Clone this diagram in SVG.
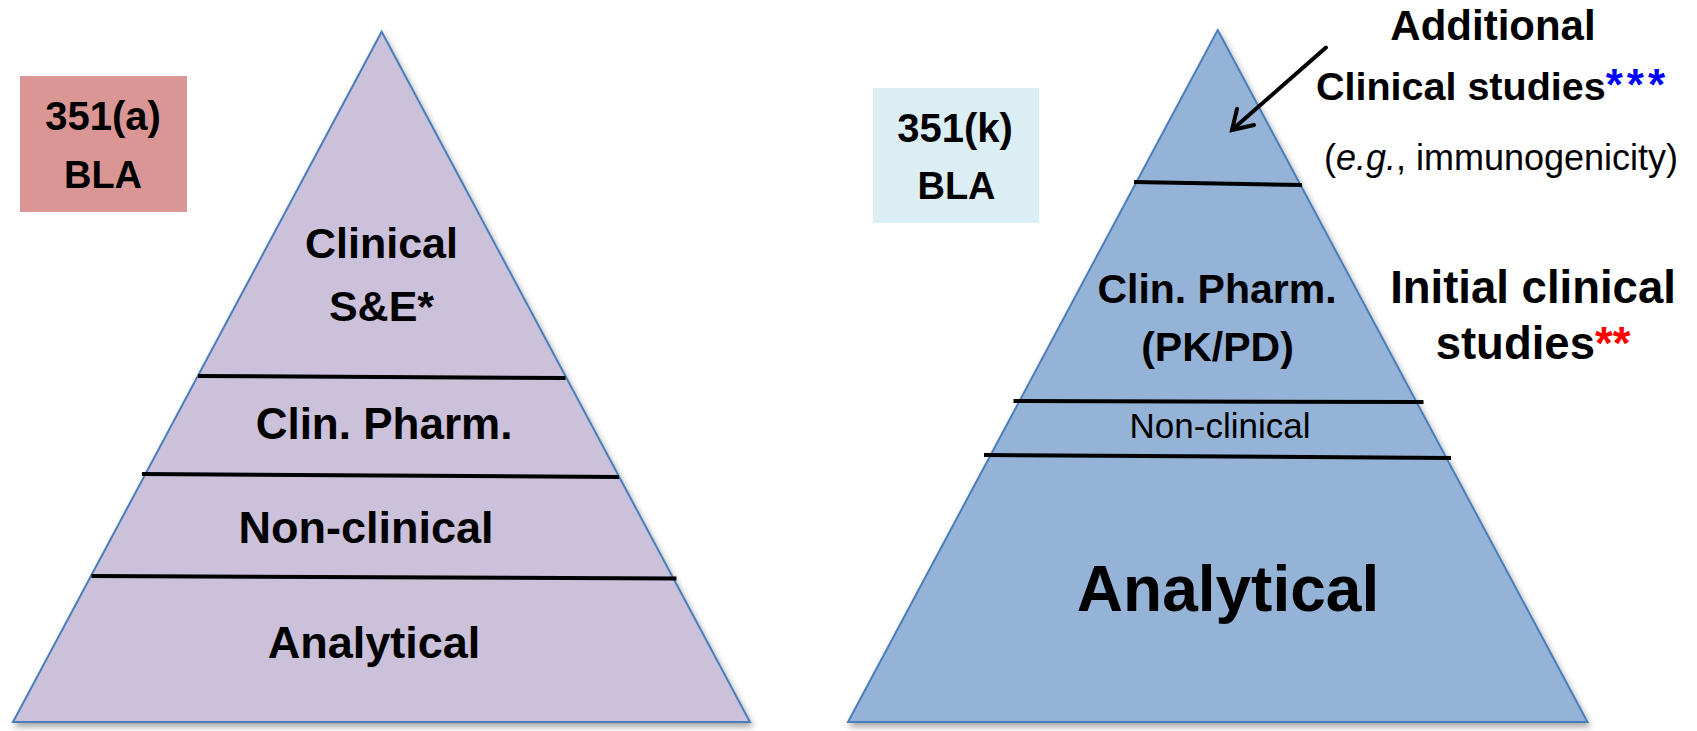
<svg xmlns="http://www.w3.org/2000/svg" width="1697" height="731" viewBox="0 0 1697 731">
  <defs>
    <filter id="shadow" x="-5%" y="-5%" width="110%" height="112%">
      <feDropShadow dx="2" dy="4" stdDeviation="3" flood-color="#000" flood-opacity="0.35"/>
    </filter>
  </defs>
  <style>
    .tri { stroke: #4a7ebb; stroke-width: 2; stroke-linejoin: miter; }
    .sep { stroke: #000; stroke-width: 4; fill: none; }
    .b { font-family: "Liberation Sans", Arial, sans-serif; font-weight: bold; fill: #000; text-anchor: middle; }
    .r { font-family: "Liberation Sans", Arial, sans-serif; font-weight: normal; fill: #000; text-anchor: middle; }
  </style>
  <rect width="1697" height="731" fill="#fff"/>

  <g id="left-pyramid">
    <polygon class="tri" points="381.7,31.7 750,722 13,722" fill="#ccc1da" filter="url(#shadow)"/>
    <line class="sep" x1="198" y1="376" x2="565.5" y2="378"/>
    <line class="sep" x1="142" y1="474" x2="619" y2="477"/>
    <line class="sep" x1="91.5" y1="576" x2="676.5" y2="578.5"/>
    <text class="b" x="381.5" y="258" font-size="43">Clinical</text>
    <text class="b" x="381.5" y="321" font-size="43">S&amp;E*</text>
    <text class="b" x="384" y="439" font-size="44">Clin. Pharm.</text>
    <text class="b" x="366" y="543" font-size="45">Non-clinical</text>
    <text class="b" x="374" y="657.5" font-size="45">Analytical</text>
  </g>

  <g id="box-351a">
    <rect x="20" y="76" width="167" height="136" fill="#d99694"/>
    <text class="b" x="103" y="130" font-size="40">351(a)</text>
    <text class="b" x="103" y="188" font-size="38">BLA</text>
  </g>

  <g id="right-pyramid">
    <polygon class="tri" points="1217.7,30 1587.5,722 848,722" fill="#95b3d7" filter="url(#shadow)"/>
    <line class="sep" x1="1134" y1="182" x2="1302" y2="185"/>
    <line class="sep" x1="1013.5" y1="401" x2="1423.5" y2="402"/>
    <line class="sep" x1="984" y1="455" x2="1451" y2="458"/>
    <text class="b" x="1217" y="303" font-size="41">Clin. Pharm.</text>
    <text class="b" x="1217.5" y="361" font-size="41">(PK/PD)</text>
    <text class="r" x="1220" y="438" font-size="35">Non-clinical</text>
    <text class="b" x="1228" y="611" font-size="64">Analytical</text>
  </g>

  <g id="box-351k">
    <rect x="873" y="88" width="166" height="135" fill="#dbeef3"/>
    <text class="b" x="955" y="142" font-size="40">351(k)</text>
    <text class="b" x="956.5" y="199" font-size="38">BLA</text>
  </g>

  <g id="label-additional">
    <text class="b" x="1493" y="39.5" font-size="42">Additional</text>
    <text class="b" x="1492.5" y="100" font-size="39.5">Clinical studies<tspan fill="#0000ff" font-size="44" letter-spacing="4">***</tspan></text>
    <text class="r" x="1501" y="170" font-size="36">(<tspan font-style="italic">e.g.</tspan>, immunogenicity)</text>
  </g>

  <g id="label-initial">
    <text class="b" x="1533" y="303" font-size="45.5">Initial clinical</text>
    <text class="b" x="1533" y="359" font-size="45.5">studies<tspan fill="#ff0000">**</tspan></text>
  </g>

  <g id="connectors">
    <line x1="1326" y1="47.5" x2="1233" y2="129" stroke="#000" stroke-width="4" stroke-linecap="round"/>
    <polyline points="1237,109 1232,130 1254,125" fill="none" stroke="#000" stroke-width="4" stroke-linecap="round" stroke-linejoin="miter"/>
  </g>
</svg>
